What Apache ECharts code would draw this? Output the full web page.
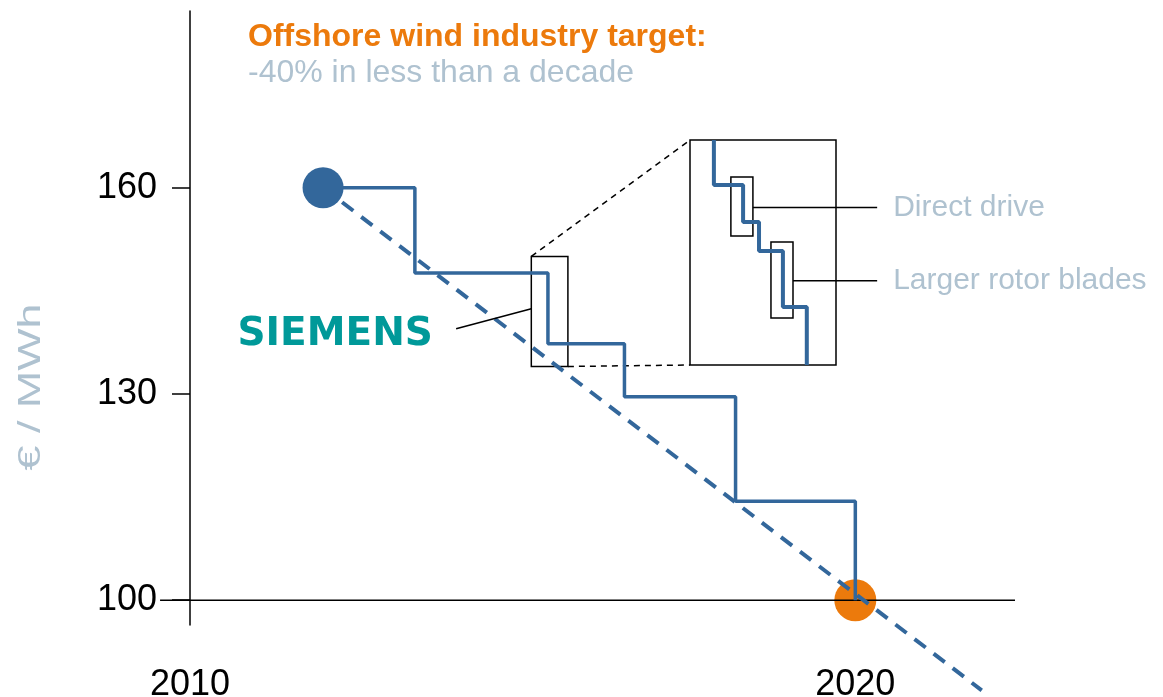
<!DOCTYPE html>
<html>
<head>
<meta charset="utf-8">
<script src="https://cdn.jsdelivr.net/npm/echarts@6/dist/echarts.min.js"></script>
<style>html,body{margin:0;padding:0;background:#fff}#chart{width:1163px;height:697px}</style>
</head>
<body>
<div id="chart"></div>
<script>
// price path of offshore wind (year, EUR/MWh)
var stepYears = [2012, 2013.38, 2015.38, 2016.53, 2018.2, 2020];
var stepPrices = [160, 147.6, 137.3, 129.6, 114.4, 100];
var trendYears = [2012, 2021.9];
var trendPrices = [160, 86.9];
var startPoint = [2012, 160];
var targetPoint = [2020, 100];
var yTicks = [100, 130, 160];
var xTicks = [2010, 2020];
var baseline = [[2009.55, 100], [2022.4, 100]];

// window of the main chart that the inset blows up
var zoomYears = [2015.13, 2015.68];
var zoomPrices = [134, 150];
var insetYears = [2015.22, 2015.33, 2015.39, 2015.48, 2015.57, 2015.57];
var insetPrices = [150, 146.8, 144.17, 142.11, 138.12, 134];
var driveBox = [[2015.284, 147.37], [2015.367, 143.17]];
var bladeBox = [[2015.435, 142.75], [2015.518, 137.35]];
var calloutY = [145.2, 140.0];
var calloutEnd = 2015.835;
var calloutLabels = ['Direct drive', 'Larger rotor blades'];
var siemensLeader = [[2014.0, 139.5], [2015.13, 142.4]];

var blue = '#33679b';
var orange = '#ec7a0c';
var grey = '#afc2d0';
var font = 'Liberation Sans, Arial, sans-serif';

function zip(xs, ys) {
  return xs.map(function (x, i) { return [x, ys[i]]; });
}

var chartDom = document.getElementById('chart');
var myChart = echarts.init(chartDom);
var option;

var boxStyle = { color: 'rgba(0,0,0,0)', borderColor: '#000', borderWidth: 1.5 };

option = {
  animation: false,
  textStyle: { fontFamily: font },
  title: {
    text: 'Offshore wind industry target:',
    subtext: '-40% in less than a decade',
    left: 243,
    top: 16,
    itemGap: 4,
    textStyle: { fontSize: 32, fontWeight: 'bold', color: orange, fontFamily: font },
    subtextStyle: { fontSize: 32, color: grey, fontFamily: font }
  },
  grid: [
    { left: 190, right: 148, top: 11, bottom: 72, outerBoundsMode: 'none', containLabel: false },
    { left: 690, top: 140, width: 146, height: 225, show: true, outerBoundsMode: 'none',
      borderColor: '#000', borderWidth: 1.5, backgroundColor: 'transparent' }
  ],
  xAxis: [
    {
      type: 'value', gridIndex: 0, min: 2010, max: 2022.4,
      axisLine: { show: false }, axisTick: { show: false }, splitLine: { show: false },
      axisLabel: {
        customValues: xTicks, fontSize: 36, color: '#000', margin: 42,
        formatter: function (v) { return String(v); }
      }
    },
    { type: 'value', gridIndex: 1, min: zoomYears[0], max: zoomYears[1], show: false }
  ],
  yAxis: [
    {
      type: 'value', gridIndex: 0, min: 96.4, max: 185.7,
      axisLine: { show: true, lineStyle: { color: '#000', width: 1.5 } },
      axisTick: { show: true, customValues: yTicks, length: 18, lineStyle: { color: '#000', width: 1.5 } },
      axisLabel: { customValues: yTicks, fontSize: 36, color: '#000', margin: 33 },
      splitLine: { show: false }
    },
    { type: 'value', gridIndex: 1, min: zoomPrices[0], max: zoomPrices[1], show: false }
  ],
  series: [
    {
      type: 'scatter', data: [targetPoint], symbolSize: 42, z: 1,
      itemStyle: { color: orange, opacity: 1 }, silent: true
    },
    {
      type: 'line', data: zip(trendYears, trendPrices), showSymbol: false, clip: false, z: 4,
      lineStyle: { color: blue, width: 4, type: [14, 10] }, silent: true
    },
    {
      type: 'line', data: zip(stepYears, stepPrices), step: 'end', showSymbol: false, clip: false, z: 4,
      lineStyle: { color: blue, width: 3.5 }, silent: true,
      markArea: {
        silent: true, itemStyle: boxStyle, label: { show: false },
        data: [[{ coord: [zoomYears[0], zoomPrices[1]] }, { coord: [zoomYears[1], zoomPrices[0]] }]]
      },
      markLine: {
        silent: true, symbol: 'none', label: { show: false },
        data: [
          [{ coord: siemensLeader[0], lineStyle: { color: '#000', width: 1.5, type: 'solid' },
             label: { show: true, position: 'start', distance: 24, formatter: 'SIEMENS',
                      color: '#009999', fontSize: 39, fontWeight: 'bold', fontFamily: 'DejaVu Sans' } },
           { coord: siemensLeader[1] }]
        ]
      }
    },
    {
      type: 'scatter', data: [startPoint], symbolSize: 41, z: 5,
      itemStyle: { color: blue, opacity: 1 }, silent: true
    },
    {
      type: 'line', xAxisIndex: 1, yAxisIndex: 1, data: zip(insetYears, insetPrices),
      step: 'start', showSymbol: false, clip: false,
      lineStyle: { color: blue, width: 4 }, silent: true,
      markArea: {
        silent: true, itemStyle: boxStyle, label: { show: false },
        data: [
          [{ coord: driveBox[0] }, { coord: driveBox[1] }],
          [{ coord: bladeBox[0] }, { coord: bladeBox[1] }]
        ]
      }
    }
  ],
  graphic: [
    {
      type: 'text', id: 'yname', x: 31, y: 387, rotation: Math.PI / 2, scaleX: 1.4,
      style: { text: '€ / MWh', fill: grey, fontSize: 32, fontFamily: font,
               align: 'center', verticalAlign: 'middle' }
    }
  ]
};
myChart.setOption(option);

// annotations that reach outside the axes: baseline, callouts, dashed connectors
var solid = { stroke: '#000', lineWidth: 1.5 };
var dash = { stroke: '#000', lineWidth: 1.5, lineDash: [6, 5] };
var b0 = myChart.convertToPixel({ gridIndex: 0 }, baseline[0]);
var b1 = myChart.convertToPixel({ gridIndex: 0 }, baseline[1]);
var a = myChart.convertToPixel({ gridIndex: 0 }, [zoomYears[0], zoomPrices[1]]);
var b = myChart.convertToPixel({ gridIndex: 1 }, [zoomYears[0], zoomPrices[1]]);
var c = myChart.convertToPixel({ gridIndex: 0 }, [zoomYears[1], zoomPrices[0]]);
var d = myChart.convertToPixel({ gridIndex: 1 }, [zoomYears[0], zoomPrices[0]]);
var extra = [
  { type: 'line', id: 'base', z: 3, shape: { x1: b0[0], y1: b0[1], x2: b1[0], y2: b1[1] }, style: solid, silent: true },
  { type: 'line', id: 'conTop', shape: { x1: a[0], y1: a[1], x2: b[0], y2: b[1] }, style: dash, silent: true },
  { type: 'line', id: 'conBot', shape: { x1: c[0], y1: c[1], x2: d[0], y2: d[1] }, style: dash, silent: true }
];
[driveBox, bladeBox].forEach(function (box, i) {
  var p = myChart.convertToPixel({ gridIndex: 1 }, [box[1][0], calloutY[i]]);
  var q = myChart.convertToPixel({ gridIndex: 1 }, [calloutEnd, calloutY[i]]);
  extra.push({ type: 'line', id: 'call' + i, shape: { x1: p[0], y1: p[1], x2: q[0], y2: q[1] }, style: solid, silent: true });
  extra.push({ type: 'text', id: 'callText' + i, x: q[0] + 16, y: q[1],
    style: { text: calloutLabels[i], fill: grey, fontSize: 30, fontFamily: font, align: 'left', verticalAlign: 'middle' } });
});
myChart.setOption({ graphic: extra });
</script>
</body>
</html>
